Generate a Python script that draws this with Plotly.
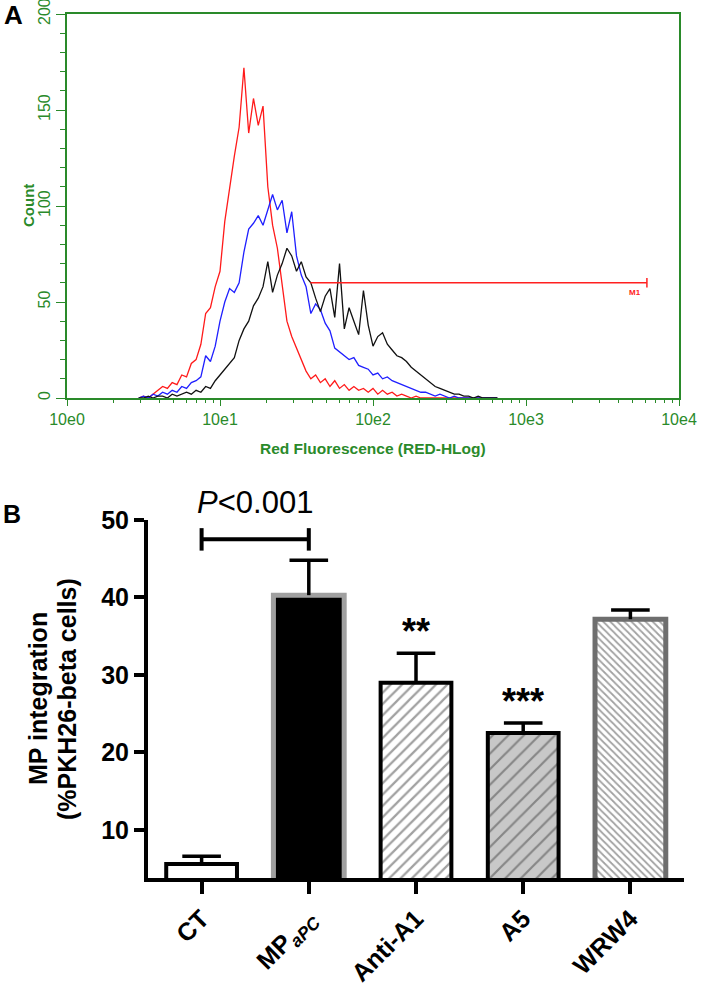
import plotly.graph_objects as go

W, H = 709, 985

# ---------------- Panel A data (flow cytometry histogram) ----------------
# 256-channel log scale over 4 decades (64 channels per decade), every 2nd channel
channels = list(range(30, 182, 2))
red_counts = [0, 1, 0, 2, 4, 6, 5, 8, 7, 12,
              11, 18, 20, 28, 44, 47, 58, 66, 92, 110,
              126, 141, 172, 138, 156, 142, 152, 110, 90, 78,
              58, 40, 32, 26, 20, 14, 10, 12, 8, 10,
              6, 9, 5, 7, 4, 6, 4, 5, 3, 5,
              2, 4, 2, 3, 1, 2, 1, 0, 1, 0,
              0, 0, 0, 0, 0, 0, 0, 0, 0, 0,
              0, 0, 0, 0, 0, 0]
blue_counts = [0, 1, 0, 2, 1, 3, 2, 4, 3, 6,
               5, 8, 9, 11, 22, 19, 27, 40, 50, 57,
               55, 60, 76, 88, 91, 95, 90, 98, 106, 98,
               103, 86, 97, 74, 64, 58, 44, 49, 46, 39,
               35, 26, 24, 22, 20, 21, 17, 16, 15, 12,
               13, 10, 11, 9, 8, 7, 6, 5, 4, 3,
               3, 2, 1, 2, 1, 0, 1, 0, 0, 0,
               0, 0, 0, 0, 0, 0]
black_counts = [0, 0, 1, 0, 1, 1, 0, 2, 1, 2,
                3, 2, 4, 3, 6, 5, 9, 12, 15, 18,
                21, 30, 36, 40, 48, 52, 58, 71, 55, 64,
                70, 78, 74, 66, 71, 63, 60, 52, 45, 53,
                57, 42, 70, 36, 47, 40, 33, 56, 38, 27,
                32, 34, 28, 25, 22, 21, 19, 16, 14, 12,
                10, 8, 6, 5, 4, 3, 2, 2, 1, 1,
                0, 1, 0, 0, 0, 0]
x_tick_vals_a = [1, 10, 100, 1000, 10000]
x_tick_text_a = ["10e0", "10e1", "10e2", "10e3", "10e4"]
y_tick_vals_a = [0, 50, 100, 150, 200]
gate_start, gate_end, gate_level = 39, 6170, 60
gate_label = "M1"

fluor = [10 ** (c / 64) for c in channels]

# ---------------- Panel B data (bar chart) ----------------
groups = ["CT", "MP<sub><i>aPC</i></sub>", "Anti-A1", "A5", "WRW4"]
means = [5.6, 40.3, 29.0, 22.5, 37.2]
sems = [1.0, 4.5, 3.8, 1.3, 1.2]
y_tick_vals_b = [10, 20, 30, 40, 50]
sig_pair = (0, 1)
sig_level = 47.5
sig_text = "<i>P</i>&lt;0.001"
stars = {2: "**", 3: "***"}

GREEN = "#2a8a2a"
NARROW = "Liberation Sans Narrow, Arial Narrow, Liberation Sans, Arial"
SANS = "Liberation Sans, Arial, sans-serif"


def px_x(p):
    return p / W


def px_y(p):
    return 1 - p / H


fig = go.Figure()

# ---- Panel A traces ----
for counts, col in [(red_counts, "#ff1a1a"), (blue_counts, "#1f1fff"), (black_counts, "#111111")]:
    fig.add_trace(go.Scatter(x=fluor, y=counts, mode="lines",
                             line=dict(color=col, width=1.3),
                             xaxis="x", yaxis="y", hoverinfo="skip"))

# gate M1
fig.add_trace(go.Scatter(x=[gate_start, gate_end, None, gate_end, gate_end],
                         y=[gate_level, gate_level, None, gate_level - 2.5, gate_level + 2.5],
                         mode="lines", line=dict(color="#ff2020", width=1.5),
                         xaxis="x", yaxis="y", hoverinfo="skip"))

# ---- Panel B traces ----
fig.add_trace(go.Bar(
    x=list(range(len(groups))), y=means, width=0.66,
    xaxis="x2", yaxis="y2",
    marker=dict(
        color=["white", "black", "white", "#c8c8c8", "white"],
        line=dict(color=["black", "#a0a0a0", "black", "black", "#6e6e6e"],
                  width=[4, 5, 4, 4, 5]),
        pattern=dict(shape=["", "", "/", "/", "\\"],
                     fgcolor=["black", "black", "#707070", "black", "#555555"],
                     bgcolor=["white", "black", "white", "#c8c8c8", "white"],
                     size=[8, 8, 8, 11, 5],
                     solidity=[0.3, 0.3, 0.28, 0.2, 0.35]),
    ),
    hoverinfo="skip"))

ex, ey = [], []
cap = 0.18
for i, (m, s) in enumerate(zip(means, sems)):
    ex += [i, i, None, i - cap, i + cap, None]
    ey += [m, m + s, None, m + s, m + s, None]
fig.add_trace(go.Scatter(x=ex, y=ey, mode="lines", line=dict(color="black", width=3.5),
                         xaxis="x2", yaxis="y2", hoverinfo="skip", cliponaxis=False))

# significance bracket
a, b = sig_pair
fig.add_trace(go.Scatter(
    x=[a, b, None, a, a, None, b, b],
    y=[sig_level, sig_level, None, sig_level - 1.45, sig_level + 1.45, None,
       sig_level - 1.45, sig_level + 1.45],
    mode="lines", line=dict(color="black", width=4),
    xaxis="x2", yaxis="y2", hoverinfo="skip", cliponaxis=False))


def ann(text, x, y, size, color="black", family=SANS, angle=0, xref="paper", yref="paper", **kw):
    d = dict(text=text, x=x, y=y, xref=xref, yref=yref, showarrow=False,
             xanchor="center", yanchor="middle", textangle=angle,
             font=dict(family=family, size=size, color=color))
    d.update(kw)
    return d


annotations = [
    ann("<b>A</b>", px_x(13), px_y(15), 26),
    ann("<b>B</b>", px_x(12), px_y(514), 25),
    ann("<b>Count</b>", px_x(28), px_y(206), 15, GREEN, NARROW, -90),
    ann("<b>Red Fluorescence (RED-HLog)</b>", px_x(373), px_y(448), 15.5, GREEN, NARROW),
    ann("<b>" + gate_label + "</b>", 3.765, gate_level - 5, 8, "#ff2020",
        xref="x", yref="y", xanchor="right"),
    ann("<b>MP integration</b>", px_x(38), px_y(699), 25, angle=-90),
    ann("<b>(%PKH26-beta cells)</b>", px_x(67), px_y(699), 25, angle=-90),
    ann(sig_text, (a + b) / 2, px_y(503), 31, xref="x2"),
]
for i, s in stars.items():
    annotations.append(ann("<b>" + s + "</b>", i, means[i] + sems[i] + 2.2, 36,
                           xref="x2", yref="y2", yanchor="bottom", yshift=-18))

fig.update_layout(
    width=W, height=H, autosize=False,
    margin=dict(l=0, r=0, t=0, b=0),
    paper_bgcolor="white", plot_bgcolor="white",
    showlegend=False,
    annotations=annotations,
    xaxis=dict(domain=[px_x(67), px_x(679)], type="log", range=[0, 4], anchor="y",
               automargin=False, ticklabeloverflow="allow",
               tickvals=x_tick_vals_a, ticktext=x_tick_text_a,
               showline=True, linecolor=GREEN, linewidth=1.5, mirror=True,
               ticks="outside", ticklen=6, tickwidth=1, tickcolor=GREEN,
               minor=dict(ticks="outside", ticklen=3, tickcolor=GREEN, dtick="D1"),
               tickfont=dict(family=NARROW, size=16, color=GREEN),
               showgrid=False, zeroline=False),
    yaxis=dict(domain=[px_y(398), px_y(14)], range=[0, 200], anchor="x",
               automargin=False, ticklabeloverflow="allow",
               tickvals=y_tick_vals_a, tickangle=-90, ticklabelstandoff=0,
               showline=True, linecolor=GREEN, linewidth=1.5, mirror=True,
               ticks="outside", ticklen=9, tickwidth=1, tickcolor=GREEN,
               minor=dict(ticks="outside", ticklen=5, tickcolor=GREEN, dtick=10),
               tickfont=dict(family=NARROW, size=16, color=GREEN),
               showgrid=False, zeroline=False),
    xaxis2=dict(domain=[px_x(148), px_x(684)], range=[-0.5, 4.5], anchor="y2",
                automargin=False, ticklabeloverflow="allow",
                tickvals=list(range(len(groups))), ticktext=groups, tickangle=-45,
                showline=True, linecolor="black", linewidth=4,
                ticks="outside", ticklen=12, tickwidth=4, tickcolor="black",
                tickfont=dict(family=SANS, size=25, color="black", weight="bold"),
                showgrid=False, zeroline=False),
    yaxis2=dict(domain=[px_y(878), px_y(520)], range=[3.8, 50], anchor="x2",
                automargin=False, ticklabeloverflow="allow",
                tickvals=y_tick_vals_b,
                showline=True, linecolor="black", linewidth=4,
                ticks="outside", ticklen=10, tickwidth=4, tickcolor="black",
                tickfont=dict(family=SANS, size=25, color="black", weight="bold"),
                showgrid=False, zeroline=False),
)

fig.write_html("out.html", config={"displayModeBar": False},
               post_script="document.body.style.margin='0';")
